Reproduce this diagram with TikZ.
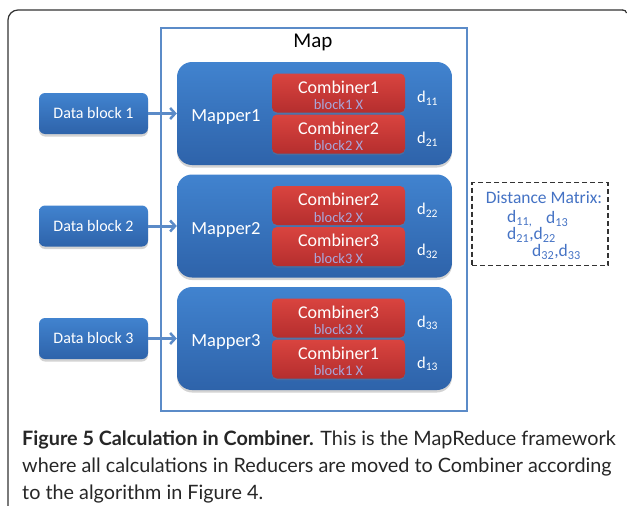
\documentclass[tikz,border=0pt]{standalone}
\usepackage{fontspec}
\setmainfont{Carlito}
\newfontfamily\capfont{Lato}
\usetikzlibrary{shadows,arrows.meta}
\definecolor{mapblue}{HTML}{5B8BC8}
\definecolor{bluetop}{HTML}{4183CF}
\definecolor{bluebot}{HTML}{2E63AA}
\definecolor{redtop}{HTML}{D9443F}
\definecolor{redbot}{HTML}{B52E2E}
\definecolor{subtxt}{HTML}{A9A6DA}
\definecolor{dmtxt}{HTML}{4472C4}
\begin{document}
\begin{tikzpicture}[x=1pt,y=-1pt,
  bluebox/.style={rounded corners=#1, top color=bluetop, bottom color=bluebot, draw=none,
    drop shadow={opacity=0.35, shadow xshift=0pt, shadow yshift=-2.5pt}},
  databox/.style={bluebox=6pt, minimum width=109pt, minimum height=41pt, inner sep=0pt,
    text=white, font=\fontsize{16}{18}\selectfont},
  mapperbox/.style={bluebox=15pt, minimum width=275pt, minimum height=103pt, inner sep=0pt},
  combbox/.style={rounded corners=5pt, top color=redtop, bottom color=redbot, draw=none,
    minimum width=133pt, minimum height=39pt, inner sep=0pt,
    drop shadow={opacity=0.3, shadow xshift=0pt, shadow yshift=-1.5pt}},
  combtxt/.style={text=white, font=\fontsize{18}{20}\selectfont, inner sep=0pt},
  subtext/.style={text=subtxt, font=\fontsize{14.5}{16}\selectfont, inner sep=0pt},
  maptxt/.style={text=white, font=\fontsize{18.5}{20}\selectfont, inner sep=0pt},
  dlabel/.style={text=white, font=\fontsize{16.5}{18}\selectfont, inner sep=0pt},
  dmlabel/.style={text=dmtxt, font=\fontsize{17.5}{19}\selectfont, inner sep=0pt},
  flow/.style={draw=mapblue, line width=3pt, -{Straight Barb[length=5pt,width=11pt,line width=2.5pt]}},
  captxt/.style={font=\capfont\fontsize{19.8}{22}\selectfont, text=black!85, inner sep=0pt, anchor=base west}
]
\useasboundingbox (0,0) rectangle (627,506);
% outer frame
\draw[line width=1.2pt, black!80, rounded corners=10pt] (8,506) -- (8,10) -- (623,10);
\draw[line width=1.2pt, black!80] (622.5,10) .. controls (625,10) and (626,11) .. (626.5,13);
% Map box
\node[draw=mapblue, line width=2.2pt, minimum width=306pt, minimum height=383pt, inner sep=0pt] (map) at (314,219.5) {};
\node[font=\fontsize{21}{23}\selectfont, inner sep=0pt] (maptitle) at (313,42) {Map};
% data blocks
\node[databox] (db1) at (93.5,113.5) {Data block 1};
\node[databox] (db2) at (93.5,226) {Data block 2};
\node[databox] (db3) at (93.5,338.5) {Data block 3};
% mappers
\node[mapperbox] (m1) at (314.5,113.5) {};
\node[mapperbox] (m2) at (314.5,226) {};
\node[mapperbox] (m3) at (314.5,338.5) {};
\node[maptxt] (m1t) at (226,117) {Mapper1};
\node[maptxt] (m2t) at (226,229.5) {Mapper2};
\node[maptxt] (m3t) at (226,342) {Mapper3};
% combiners
\foreach \nm/\yy/\cn/\bn/\dn in {c11/93/1/1/11, c12/134/2/2/21, c21/205.5/2/2/22, c22/246.5/3/3/32, c31/318/3/3/33, c32/359/1/1/13}{
  \node[combbox] (\nm) at (338.5,\yy) {};
  \node[combtxt] (\nm t) at (338.5,\yy-6) {Combiner\cn};
  \node[subtext] (\nm s) at (338.5,\yy+12) {block\bn\ X};
  \node[dlabel, anchor=west] (\nm d) at (417,\yy+5) {d\textsubscript{\dn}};
}
% arrows
\draw[flow] (db1) -- (m1);
\draw[flow] (db2) -- (m2);
\draw[flow] (db3) -- (m3);
% distance matrix
\node[draw=black!80, dash pattern=on 5pt off 3pt, line width=1.3pt, minimum width=136pt, minimum height=83pt, inner sep=0pt] (dm) at (540,224) {};
\node[dmlabel] (dmt) at (544,198) {Distance Matrix:};
\node[dmlabel, anchor=west] (dm1) at (507,219) {d\textsubscript{11,}};
\node[dmlabel, anchor=west] (dm2) at (546,219) {d\textsubscript{13}};
\node[dmlabel, anchor=west] (dm3) at (507,235) {d\textsubscript{21},d\textsubscript{22}};
\node[dmlabel, anchor=west] (dm4) at (532,252) {d\textsubscript{32},d\textsubscript{33}};
% caption
\node[captxt] (cap1) at (22,445) {\textbf{Figure 5 Calculation in Combiner.} This is the MapReduce framework};
\node[captxt] (cap2) at (22,472) {where all calculations in Reducers are moved to Combiner according};
\node[captxt] (cap3) at (22,499) {to the algorithm in Figure 4.};
\end{tikzpicture}
\end{document}
